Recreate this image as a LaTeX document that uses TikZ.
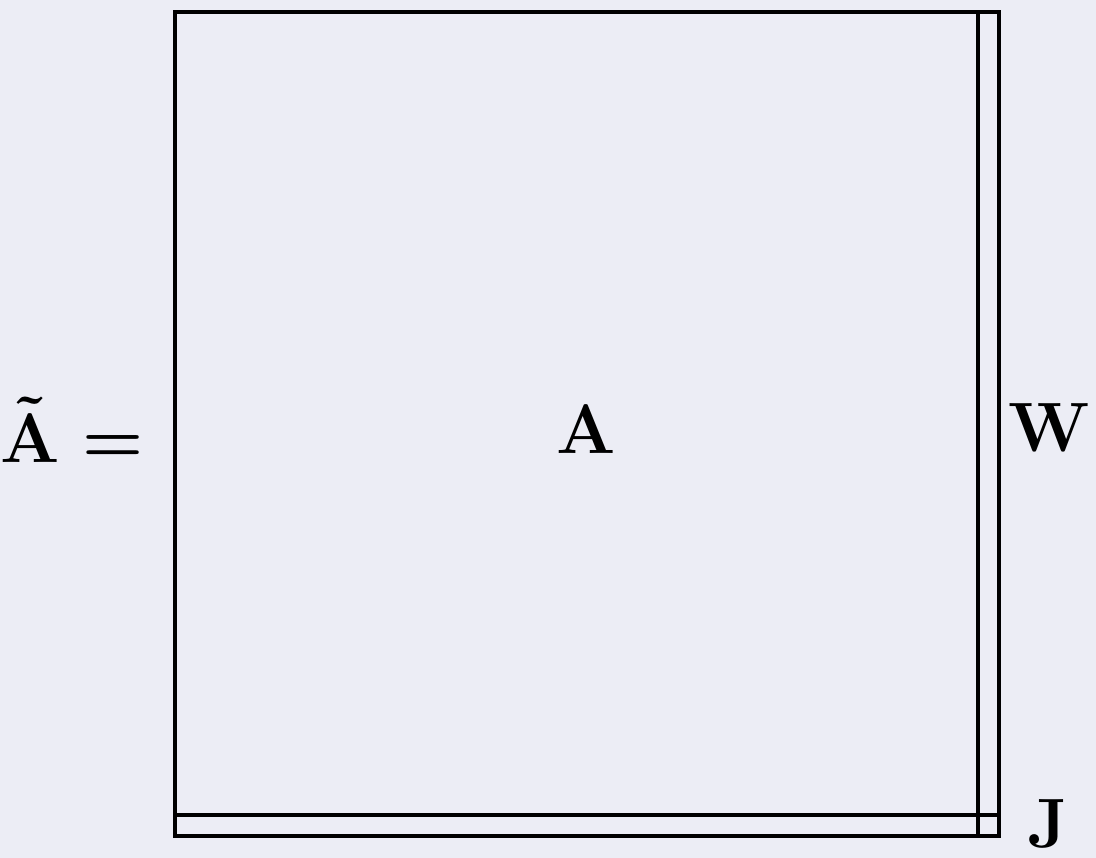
\documentclass[tikz,border=0pt]{standalone}
\usepackage{amsmath}
\definecolor{bgcol}{RGB}{236,237,245}

\begin{document}
\begin{tikzpicture}[
  x=0.01cm,y=-0.01cm,
  block/.style={draw=black,line width=1.1pt},
  label/.style={font=\Large\boldmath,scale=1.38,inner sep=0pt},
]
  % canvas
  \fill[bgcol] (0,0) rectangle (1096,858);
  \useasboundingbox (0,0) rectangle (1096,858);
  % blocks
  \draw[block] (175,12) rectangle (978,815);
  \draw[block] (978,12) rectangle (999,836);
  \draw[block] (175,815) rectangle (999,836);
  % labels
  \node[label] (lhs) at (72,430) {$\tilde{\mathbf{A}} =$};
  \node[label] (A) at (586,430) {$\mathbf{A}$};
  \node[label] (W) at (1050,428) {$\mathbf{W}$};
  \node[label] (J) at (1048,824) {$\mathbf{J}$};
\end{tikzpicture}
\end{document}
